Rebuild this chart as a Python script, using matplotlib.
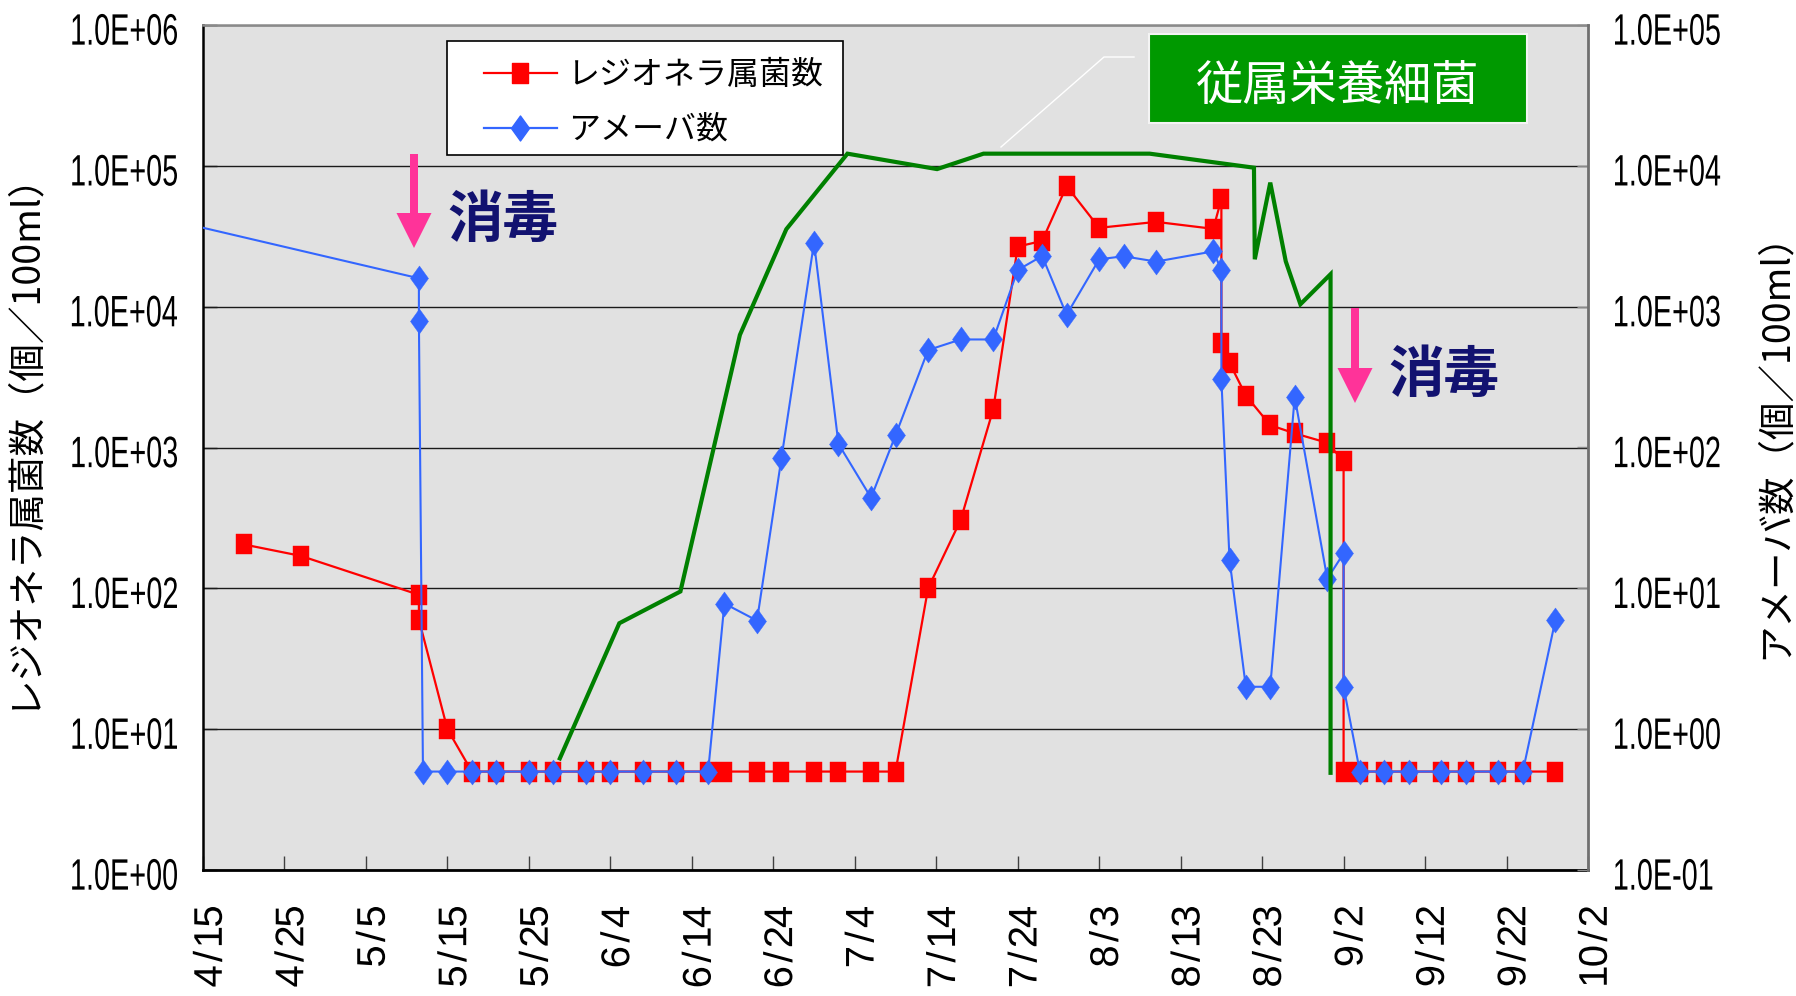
import numpy as np
import matplotlib
matplotlib.use("Agg")
import matplotlib.pyplot as plt
from matplotlib.path import Path
from matplotlib.patches import Rectangle, Polygon, PathPatch
from matplotlib.lines import Line2D
from matplotlib.ticker import FixedLocator, NullLocator, NullFormatter
from matplotlib.textpath import TextPath
from matplotlib.font_manager import FontProperties
from matplotlib.transforms import Affine2D, IdentityTransform

# ---------------- data (x = days after 4/15) ----------------
tick_days = list(range(0, 171, 10))
tick_labels = ["4/15", "4/25", "5/5", "5/15", "5/25", "6/4", "6/14", "6/24", "7/4",
               "7/14", "7/24", "8/3", "8/13", "8/23", "9/2", "9/12", "9/22", "10/2"]
left_ticks = [1, 10, 100, 1e3, 1e4, 1e5, 1e6]
left_tick_labels = ["1.0E+00", "1.0E+01", "1.0E+02", "1.0E+03", "1.0E+04", "1.0E+05", "1.0E+06"]
right_ticks = [0.1, 1, 10, 100, 1e3, 1e4, 1e5]
right_tick_labels = ["1.0E-01", "1.0E+00", "1.0E+01", "1.0E+02", "1.0E+03", "1.0E+04", "1.0E+05"]

# レジオネラ属菌数 (個/100ml)
legionella_day = [5, 12, 26.5, 26.5, 30, 33, 36, 40, 43, 47, 50, 54, 58, 62, 64, 68, 71, 75,
                  78, 82, 85, 89, 93, 97, 100, 103, 106, 110, 117, 124, 125, 125, 126, 128,
                  131, 134, 138, 140, 140, 142, 145, 148, 152, 155, 159, 162, 166]
legionella_val = [205, 170, 90, 60, 10, 5, 5, 5, 5, 5, 5, 5, 5, 5, 5, 5, 5, 5,
                  5, 5, 5, 100, 306, 1870, 26700, 29300, 71800, 36300, 40000, 35700, 58000, 5530, 3990, 2340,
                  1440, 1260, 1080, 800, 5, 5, 5, 5, 5, 5, 5, 5, 5]

# アメーバ数 (個/100ml)
amoeba_day = [-15, 26.5, 26.5, 27, 30, 33, 36, 40, 43, 47, 50, 54, 58, 62, 64, 68, 71, 75,
              78, 82, 85, 89, 93, 97, 100, 103, 106, 110, 113, 117, 124, 125, 125, 126, 128,
              131, 134, 138, 140, 140, 142, 145, 148, 152, 155, 159, 162, 166]
amoeba_val = [5800, 1590, 795, 0.5, 0.5, 0.5, 0.5, 0.5, 0.5, 0.5, 0.5, 0.5, 0.5, 0.5, 7.8, 5.9, 84, 2850,
              106, 44, 122, 492, 585, 585, 1820, 2290, 875, 2170, 2280, 2090, 2470, 1820, 304, 16, 2.0,
              2.0, 229, 11.7, 17.7, 2.0, 0.5, 0.5, 0.5, 0.5, 0.5, 0.5, 0.5, 5.97]

# 従属栄養細菌 (plotted on the left-axis scale)
hpc_day = [43.8, 51.1, 58.6, 65.9, 71.6, 79.1, 90.1, 95.8, 116.2, 129.0, 129.1, 131.0,
           132.9, 134.7, 138.4, 138.4]
hpc_val = [6.2, 56.5, 95, 6300, 35500, 122000, 94800, 122000, 122000, 97000, 21700, 76000,
           21000, 10400, 17000, 4.9]

# ---------------- styling ----------------
W, H = 1796, 996
def fx(x):
    return x / W
def fy(y):
    return 1 - y / H

CJK = ["Noto Sans CJK JP", "DejaVu Sans"]
plt.rcParams["font.family"] = CJK
LAT = FontProperties(family="Liberation Sans")

RED = "#FF0000"
BLUE = "#3366FF"
GREEN = "#008000"
PINK = "#FF3399"
NAVY = "#121270"

rect_marker = Path([(-0.8, -1), (0.8, -1), (0.8, 1), (-0.8, 1), (-0.8, -1)],
                   [Path.MOVETO, Path.LINETO, Path.LINETO, Path.LINETO, Path.CLOSEPOLY])
diamond_marker = Path([(0, 1), (0.72, 0), (0, -1), (-0.72, 0), (0, 1)],
                      [Path.MOVETO, Path.LINETO, Path.LINETO, Path.LINETO, Path.CLOSEPOLY])

fig = plt.figure(figsize=(W / 100, H / 100), dpi=100)
fig.patch.set_facecolor("white")

ax_left, ax_right, ax_top, ax_bot = 203, 1588, 25, 870
ax = fig.add_axes([fx(ax_left), fy(ax_bot), (ax_right - ax_left) / W, (ax_bot - ax_top) / H])
ax.set_facecolor("#E1E1E1")
ax.set_yscale("log")
ax.set_xlim(0, 170)
ax.set_ylim(1, 1e6)
ax.yaxis.set_major_locator(FixedLocator(left_ticks))
ax.yaxis.set_minor_locator(NullLocator())
ax.yaxis.set_major_formatter(NullFormatter())
ax.xaxis.set_major_locator(FixedLocator(tick_days))
ax.xaxis.set_major_formatter(NullFormatter())
ax.yaxis.grid(True, color="#1a1a1a", lw=1.0)
ax.set_axisbelow(True)
ax.tick_params(axis="x", direction="in", length=10, width=1.0, color="#404040")
ax.tick_params(axis="y", direction="in", length=10, width=1.0, color="#1a1a1a")
ax.spines["left"].set_color("black")
ax.spines["left"].set_linewidth(1.8)
ax.spines["bottom"].set_color("black")
ax.spines["bottom"].set_linewidth(2.0)
ax.spines["top"].set_color("#8a8a8a")
ax.spines["top"].set_linewidth(1.8)
ax.spines["right"].set_visible(False)

ax.plot(legionella_day, legionella_val, color=RED, lw=1.6, marker=rect_marker,
        ms=15, mec=RED, mfc=RED, mew=0.3, zorder=3)

ax2 = ax.twinx()
ax2.set_yscale("log")
ax2.set_ylim(0.1, 1e5)
ax2.yaxis.set_major_locator(FixedLocator(right_ticks))
ax2.yaxis.set_minor_locator(NullLocator())
ax2.yaxis.set_major_formatter(NullFormatter())
ax2.tick_params(axis="y", direction="in", length=8, width=1.0, color="#8a8a8a")
for s in ["left", "top", "bottom"]:
    ax2.spines[s].set_visible(False)
ax2.spines["right"].set_color("#707070")
ax2.spines["right"].set_linewidth(2.0)
ax2.plot(amoeba_day, amoeba_val, color=BLUE, lw=1.5, marker=diamond_marker,
         ms=18, mec=BLUE, mfc=BLUE, mew=0.3, zorder=3)

ax3 = ax.twinx()
ax3.set_yscale("log")
ax3.set_ylim(1, 1e6)
ax3.axis("off")
ax3.plot(hpc_day, hpc_val, color=GREEN, lw=3.0, zorder=3, solid_joinstyle="miter")


# ---------------- tick labels drawn as glyph paths ----------------
def add_path(p, color="black"):
    fig.add_artist(PathPatch(p, transform=IdentityTransform(), facecolor=color,
                             edgecolor="none", zorder=5))

def condensed_path(s, em, sx):
    return TextPath((0, 0), s, size=em, prop=LAT).transformed(Affine2D().scale(sx, 1))

def mono_path(s, em, cell):
    parts = []
    for i, ch in enumerate(s):
        tp = TextPath((0, 0), ch, size=em, prop=LAT)
        e = tp.get_extents()
        dx = i * cell + cell / 2 - (e.x0 + e.x1) / 2
        parts.append(tp.transformed(Affine2D().translate(dx, 0)))
    return Path.make_compound_path(*parts)

YEM, YSX = 44, 0.655
for t, lab in zip(left_ticks, left_tick_labels):
    p = condensed_path(lab, YEM, YSX)
    e = p.get_extents()
    yd = ax.transData.transform((1, t))[1]
    add_path(p.transformed(Affine2D().translate((ax_left - 26) - e.x1,
                                                 yd - 4.5 - (e.y0 + e.y1) / 2)))
for t, lab in zip(right_ticks, right_tick_labels):
    p = condensed_path(lab, YEM, YSX)
    e = p.get_extents()
    yd = ax2.transData.transform((1, t))[1]
    add_path(p.transformed(Affine2D().translate(1615 - e.x0,
                                                 yd - 4.5 - (e.y0 + e.y1) / 2)))
for d, lab in zip(tick_days, tick_labels):
    p = mono_path(lab, 40, 20).transformed(Affine2D().rotate_deg(90))
    e = p.get_extents()
    xd = ax.transData.transform((d, 1))[0]
    add_path(p.transformed(Affine2D().translate(xd + 4.5 - (e.x0 + e.x1) / 2,
                                                 (H - 907) - e.y1)))

# axis titles
fig.text(fx(22), fy(430), "レジオネラ属菌数（個／100ml）", rotation=90, ha="center",
         va="center", fontsize=27, family=CJK)
fig.text(fx(1775), fy(436), "アメーバ数（個／100ml）", rotation=90, ha="center",
         va="center", fontsize=27, family=CJK)

# legend with fixed frame
fig.add_artist(Rectangle((fx(447), fy(155)), (843 - 447) / W, (155 - 41) / H,
                         transform=fig.transFigure, facecolor="white", edgecolor="black",
                         lw=1.2, zorder=4))
h1 = Line2D([], [], color=RED, lw=1.6, marker=rect_marker, ms=15, mec=RED, mfc=RED)
h2 = Line2D([], [], color=BLUE, lw=1.6, marker=diamond_marker, ms=18, mec=BLUE, mfc=BLUE)
leg = fig.legend([h1, h2], ["レジオネラ属菌数", "アメーバ数"], loc="upper left",
                 bbox_to_anchor=(fx(484), fy(59)), bbox_transform=fig.transFigure,
                 frameon=False, borderpad=0, borderaxespad=0, handlelength=2.27,
                 handletextpad=0.35, labelspacing=0.72, prop={"family": CJK, "size": 23})
leg.set_zorder(6)

# 従属栄養細菌 label box and leader line
fig.add_artist(Rectangle((fx(1149), fy(123)), (1527 - 1149) / W, (123 - 34) / H,
                         transform=fig.transFigure, facecolor="#009900", edgecolor="#f4f4f4",
                         lw=1.5, zorder=4))
fig.text(fx(1338), fy(87), "従属栄養細菌", ha="center", va="center", fontsize=34,
         color="white", family=CJK, zorder=5)
fig.add_artist(Line2D([fx(1134), fx(1104), fx(1001)], [fy(57), fy(57), fy(147)],
                      transform=fig.transFigure, color="white", lw=1.0, zorder=4))

# 消毒 arrows
def arrow(xc, top, base, tip):
    pts = [(xc - 4, top), (xc + 4, top), (xc + 4, base), (xc + 17.5, base), (xc, tip),
           (xc - 17.5, base), (xc - 4, base)]
    fig.add_artist(Polygon([(fx(a), fy(b)) for a, b in pts], closed=True,
                           transform=fig.transFigure, facecolor=PINK, edgecolor="none", zorder=5))

arrow(414, 154, 213, 248)
arrow(1355, 308, 368, 403)
fig.text(fx(503), fy(221), "消毒", ha="center", va="center", fontsize=40,
         fontweight="bold", color=NAVY, family=CJK, zorder=5)
fig.text(fx(1444), fy(376), "消毒", ha="center", va="center", fontsize=40,
         fontweight="bold", color=NAVY, family=CJK, zorder=5)

fig.savefig("out.png", dpi=100, facecolor="white")
